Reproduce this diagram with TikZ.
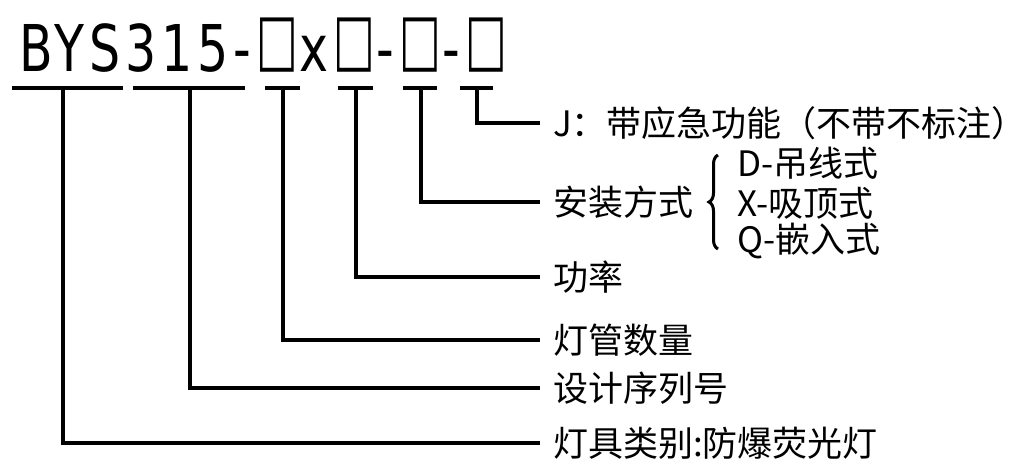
\documentclass[tikz,border=0pt]{standalone}
\usepackage{fontspec}
\setmainfont{Noto Sans CJK SC}
\newfontfamily\codefont[FakeStretch=0.76, LetterSpace=7.5]{DejaVu Sans}
\newcommand\slotbox{\kern5pt\raisebox{8.8pt}{\scalebox{0.9}[1.1]{□}}\kern1.5pt}
\usetikzlibrary{decorations.pathreplacing}

\begin{document}
\begin{tikzpicture}[x=1pt, y=-1pt,
    lbl/.style={anchor=west, inner xsep=13pt, inner ysep=0pt,
                font=\fontsize{35}{40}\selectfont},
    opt/.style={anchor=west, inner sep=0pt, font=\fontsize{35}{40}\selectfont},
    lead/.style={line width=3.5pt},
  ]
  \useasboundingbox (0,0) rectangle (1028,476);
  % --- model code (top) ---
  \node[anchor=base west, inner sep=0pt, font=\codefont\fontsize{64.5}{70}\selectfont]
    (code) at (19,72) {BYS315-\slotbox x\slotbox-\slotbox-\slotbox};
  \foreach \a/\b/\m [count=\i] in {12/123/63, 133/245/190, 265/300/283,
                                   338/373/356, 403/437/421, 460/493/477} {
    \draw[lead] (\a,88) -- (\b,88);
    \coordinate (u\i) at (\m,88);
  }

  % --- meanings (right) ---
  \node[lbl] (emerg)  at (540,123) {J：带应急功能（不带不标注）};
  \node[lbl] (mount)  at (540,202) {安装方式};
  \node[lbl] (power)  at (540,277) {功率};
  \node[lbl] (tubes)  at (540,340) {灯管数量};
  \node[lbl] (serial) at (540,388) {设计序列号};
  \node[lbl] (kind)   at (540,443) {灯具类别:防爆荧光灯};

  \draw[lead] (u6) |- (emerg.west);
  \draw[lead] (u5) |- (mount.west);
  \draw[lead] (u4) |- (power.west);
  \draw[lead] (u3) |- (tubes.west);
  \draw[lead] (u2) |- (serial.west);
  \draw[lead] (u1) |- (kind.west);

  % --- mounting options ---
  \draw[line width=3pt, decorate, decoration={brace, amplitude=9pt}]
    (718,249) -- (718,155);
  \node[opt] (hang)  at (737,163) {D-吊线式};
  \node[opt] (ceil)  at (737,203) {X-吸顶式};
  \node[opt] (embed) at (737,241) {Q-嵌入式};
\end{tikzpicture}
\end{document}
